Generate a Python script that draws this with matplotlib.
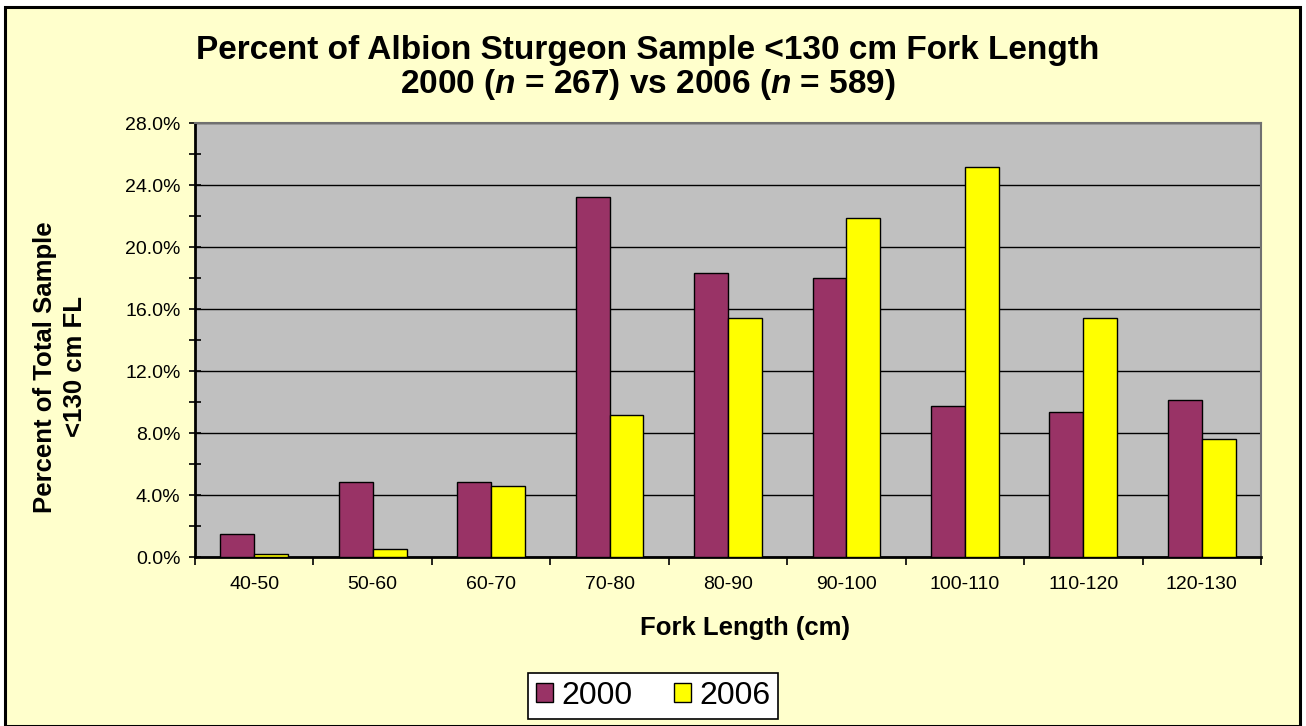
import matplotlib
matplotlib.use("Agg")
import matplotlib.pyplot as plt
import numpy as np
from matplotlib.patches import Rectangle
from matplotlib.ticker import MultipleLocator, FuncFormatter, FixedLocator

categories = ["40-50", "50-60", "60-70", "70-80", "80-90", "90-100", "100-110", "110-120", "120-130"]
pct_2000 = [1.50, 4.87, 4.87, 23.22, 18.35, 17.98, 9.74, 9.36, 10.11]
pct_2006 = [0.17, 0.51, 4.58, 9.17, 15.40, 21.90, 25.13, 15.40, 7.64]
series_labels = ["2000", "2006"]

plt.rcParams['font.family'] = ['Liberation Sans', 'DejaVu Sans']
plt.rcParams['mathtext.fontset'] = 'custom'
plt.rcParams['mathtext.rm'] = 'Liberation Sans:bold'
plt.rcParams['mathtext.it'] = 'Liberation Sans:bold:italic'

W, H = 1306, 726
fig = plt.figure(figsize=(W/100, H/100), dpi=100, facecolor='white')

# outer chart-area border
fig.patches.append(Rectangle((5/W, 0/H), 1295/W, 719/H, transform=fig.transFigure,
                             facecolor='#FFFFCC', edgecolor='black', linewidth=2.2, zorder=-10))

ax = fig.add_axes([195/W, (H-557)/H, (1261-195)/W, (557-123)/H])
ax.set_zorder(1)
ax.set_facecolor('#C0C0C0')

x = np.arange(len(categories))
w = 1/3.5
ax.bar(x - w/2, pct_2000, width=w, color='#993366', edgecolor='black', linewidth=1.0,
       label=series_labels[0], zorder=3)
ax.bar(x + w/2, pct_2006, width=w, color='#FFFF00', edgecolor='black', linewidth=1.0,
       label=series_labels[1], zorder=3)

ax.set_xlim(-0.5, len(categories) - 0.5)
ax.set_ylim(0, 28)
ax.yaxis.set_major_locator(MultipleLocator(4))
ax.yaxis.set_minor_locator(MultipleLocator(2))
ax.yaxis.set_major_formatter(FuncFormatter(lambda v, p: f"{v:.1f}%"))
ax.grid(axis='y', which='major', color='black', linewidth=1.0, zorder=1)
ax.set_axisbelow(True)

ax.set_xticks(x)
ax.set_xticklabels(categories)
ax.xaxis.set_minor_locator(FixedLocator(np.arange(-0.5, len(categories), 1.0)))
ax.tick_params(axis='x', which='major', length=0, pad=14, labelsize=14)
ax.tick_params(axis='x', which='minor', length=6, width=1.2, direction='out', color='black')
ax.tick_params(axis='y', which='major', length=9, width=1.2, direction='inout', labelsize=14, pad=6)
ax.tick_params(axis='y', which='minor', length=9, width=1.2, direction='inout')

for s in ['left', 'bottom']:
    ax.spines[s].set_color('black')
    ax.spines[s].set_linewidth(2)
for s in ['top', 'right']:
    ax.spines[s].set_color('#707070')
    ax.spines[s].set_linewidth(1.5)

fig.text(648/W, 1 - 50/H, "Percent of Albion Sturgeon Sample <130 cm Fork Length",
         ha='center', va='center', fontsize=24, fontweight='bold')
fig.text(648/W, 1 - 85/H, r"2000 ($n$ = 267) vs 2006 ($n$ = 589)",
         ha='center', va='center', fontsize=24, fontweight='bold')

fig.text(60/W, 1 - 367/H, "Percent of Total Sample\n<130 cm FL", rotation=90,
         ha='center', va='center', fontsize=18.5, fontweight='bold', linespacing=1.3)
fig.text(745/W, 1 - 628/H, "Fork Length (cm)", ha='center', va='center',
         fontsize=18.5, fontweight='bold')

leg = fig.legend(loc='center', bbox_to_anchor=(653/W, 1 - 696/H), ncol=2, fontsize=23,
                 frameon=True, fancybox=False, edgecolor='black', framealpha=1,
                 handlelength=0.55, handleheight=0.55, handletextpad=0.25, columnspacing=1.3,
                 borderpad=0.25)
leg.get_frame().set_linewidth(1.2)

fig.savefig("out.png", dpi=100, facecolor=fig.get_facecolor())
